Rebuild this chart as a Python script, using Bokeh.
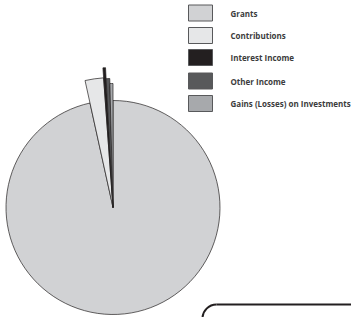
import numpy as np
from bokeh.plotting import figure
from bokeh.models import Range1d, ColumnDataSource
from bokeh.core.properties import value
from bokeh.embed import file_html
from bokeh.resources import INLINE

categories = ["Grants", "Contributions", "Interest Income", "Other Income", "Gains (Losses) on Investments"]
shares = [96.55, 2.3, 0.3, 0.45, 0.4]
colors = ["#d1d2d4", "#e6e7e8", "#231f20", "#58595b", "#a7a9ac"]
radii = [107, 130, 140, 129, 124]

W, H = 351, 317
p = figure(width=W, height=H, output_backend="svg", toolbar_location=None,
           x_range=Range1d(0, W), y_range=Range1d(0, H), min_border=0)
p.axis.visible = False
p.grid.visible = False
p.outline_line_color = None
p.background_fill_color = "white"

def Y(py):
    return H - py

cx, cy = 112.5, Y(207)
frac = np.array(shares) / sum(shares)
cum = np.concatenate([[0], np.cumsum(frac)])
start = np.deg2rad(90 - cum[:-1] * 360)
end = np.deg2rad(90 - cum[1:] * 360)

src = ColumnDataSource(dict(x=[cx] * len(categories), y=[cy] * len(categories),
                            r=radii, s=start, e=end, c=colors))
p.wedge(x="x", y="y", radius="r", start_angle="s", end_angle="e", direction="clock",
        fill_color="c", line_color="#231f20", line_width=0.7, source=src)

# legend
ly = [12.5, 35, 57, 80.5, 103]
p.rect(x=[200] * 5, y=[Y(v) for v in ly], width=24, height=16, fill_color=colors,
       line_color="#58595b", line_width=1)
p.text(x=[230] * 5, y=[Y(v) for v in ly], text=categories, text_font=value("Open Sans"),
       text_font_style="bold", text_font_size="8px", text_color="#3c3c3c",
       text_baseline="middle", text_align="left")

# rounded box corner at bottom right
p.arc(x=[216], y=[Y(318)], radius=14, start_angle=np.pi / 2, end_angle=np.pi,
      line_color="#231f20", line_width=2)
p.segment(x0=[216], y0=[Y(304)], x1=[360], y1=[Y(304)], line_color="#231f20", line_width=2)

open("out.html", "w").write(file_html(p, INLINE))
